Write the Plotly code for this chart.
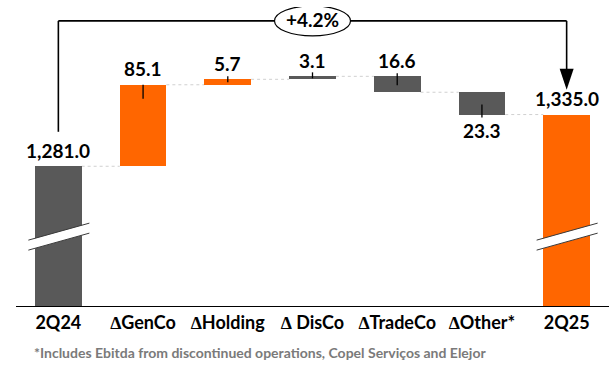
import plotly.graph_objects as go

# ---------------- data ----------------
categories = ["2Q24", "∆GenCo", "∆Holding", "∆ DisCo", "∆TradeCo", "∆Other*", "2Q25"]
measures = ["total", "delta", "delta", "delta", "delta", "delta", "total"]
values = [1281.0, 85.1, 5.7, 3.1, -16.6, -23.3, 1335.0]
footnote = "*Includes Ebitda from discontinued operations, Copel Serviços and Elejor"

# ---------------- style ----------------
ORANGE = "#FF6600"
GRAY = "#595959"
bar_colors = [GRAY, ORANGE, ORANGE, GRAY, GRAY, GRAY, ORANGE]
label_side = ["above", "above", "above", "above", "above", "below", "above"]
# leader tick offsets in pixels relative to the labelled bar edge (positive = up)
tick_px = [None, (0, -14), (3, -3), (4, -2), (3, -9), (10, -3), None]
FONT = "Lato"
Y_MIN, Y_MAX = 1135.1, 1447.3
BREAK_LEVEL = 1207.0
BRACKET_LEVEL = 1432.8
BAR_W = 0.55

# running bases
bases, heights, ends = [], [], []
level = 0.0
for m, v in zip(measures, values):
    if m == "total":
        bases.append(Y_MIN)
        heights.append(v - Y_MIN)
        level = v
        ends.append(v)
    else:
        start = level
        level = level + v
        bases.append(min(start, level))
        heights.append(abs(v))
        ends.append(level)

x_idx = list(range(len(categories)))

fig = go.Figure()
fig.add_trace(go.Bar(
    x=x_idx, y=heights, base=bases, width=BAR_W,
    marker=dict(color=bar_colors, line=dict(width=0)),
    hoverinfo="skip", showlegend=False,
))

shapes = []
annotations = []

# connectors
for i in range(len(categories) - 1):
    shapes.append(dict(type="line", xref="x", yref="y",
                       x0=i + BAR_W / 2, x1=i + 1 - BAR_W / 2, y0=ends[i], y1=ends[i],
                       line=dict(color="#d0d0d0", width=1, dash="dot"), layer="below"))

# value labels & leader ticks
for i, (m, v) in enumerate(zip(measures, values)):
    top = bases[i] + heights[i]
    bottom = bases[i]
    txt = f"{abs(v):,.1f}"
    edge = top if label_side[i] == "above" else bottom
    shift = 16 if label_side[i] == "above" else -16
    annotations.append(dict(x=i, y=edge, xref="x", yref="y", text=f"<b>{txt}</b>",
                            showarrow=False, yshift=shift, yanchor="middle",
                            font=dict(family=FONT, size=19, color="black")))
    if tick_px[i] is not None:
        shapes.append(dict(type="line", xref="x", yref="y", ysizemode="pixel",
                           yanchor=edge, x0=i, x1=i, y0=tick_px[i][0], y1=tick_px[i][1],
                           line=dict(color="black", width=1.3)))

# axis break marks on totals
for i, m in enumerate(measures):
    if m != "total":
        continue
    shapes.append(dict(type="path", xref="x", yref="y", xsizemode="pixel", ysizemode="pixel",
                       xanchor=i, yanchor=BREAK_LEVEL,
                       path="M -30,-3 L 31,14 L 31,4 L -30,-13 Z",
                       fillcolor="white", line=dict(width=0)))
    for p in ("M -30,-3 L 31,14", "M -30,-13 L 31,4"):
        shapes.append(dict(type="path", xref="x", yref="y", xsizemode="pixel", ysizemode="pixel",
                           xanchor=i, yanchor=BREAK_LEVEL, path=p,
                           line=dict(color="#3a3a3a", width=1)))

# bracket with arrow
first, last = 0, len(categories) - 1
shapes.append(dict(type="line", xref="x", yref="y", x0=first, x1=last,
                   y0=BRACKET_LEVEL, y1=BRACKET_LEVEL, line=dict(color="black", width=1.6)))
shapes.append(dict(type="line", xref="x", yref="y", x0=first, x1=first,
                   y0=values[first] + 36, y1=BRACKET_LEVEL, line=dict(color="black", width=1.6)))
shapes.append(dict(type="line", xref="x", yref="y", x0=last, x1=last,
                   y0=values[last] + 40, y1=BRACKET_LEVEL, line=dict(color="black", width=1.6)))
shapes.append(dict(type="path", xref="x", yref="y", xsizemode="pixel", ysizemode="pixel",
                   xanchor=last, yanchor=values[last] + 26,
                   path="M -7,21 L 7,21 L 0,0 Z", fillcolor="black", line=dict(width=0)))

growth = (values[last] / values[first] - 1) * 100
mid = (len(categories) - 1) / 2
shapes.append(dict(type="circle", xref="x", yref="y", xsizemode="pixel", ysizemode="pixel",
                   xanchor=mid, yanchor=BRACKET_LEVEL, x0=-38, x1=38, y0=-15, y1=15,
                   fillcolor="white", line=dict(color="black", width=1.2)))
annotations.append(dict(x=mid, y=BRACKET_LEVEL, xref="x", yref="y",
                        text=f"<b>{growth:+.1f}%</b>", showarrow=False, yshift=1,
                        font=dict(family=FONT, size=19, color="black")))

# footnote
annotations.append(dict(x=0.027, y=-0.157, xref="paper", yref="paper", xanchor="left",
                        yanchor="middle", text=f"<b>{footnote}</b>", showarrow=False,
                        font=dict(family=FONT, size=14, color="#7a7a7a")))

fig.update_layout(
    width=616, height=372,
    margin=dict(l=16, r=7, t=7, b=66),
    plot_bgcolor="white", paper_bgcolor="white",
    shapes=shapes, annotations=annotations,
    bargap=0,
    xaxis=dict(range=[-0.5, len(categories) - 0.5], tickmode="array", tickvals=x_idx,
               ticktext=[f"<b>{c}</b>" for c in categories],
               tickfont=dict(family=FONT, size=18, color="black"),
               showline=True, linecolor="black", linewidth=1.2, ticks="",
               showgrid=False, zeroline=False, fixedrange=True),
    yaxis=dict(range=[Y_MIN, Y_MAX], visible=False, showgrid=False, zeroline=False,
               fixedrange=True),
)

fig.write_html("out.html", config={"displayModeBar": False, "staticPlot": True},
               post_script="document.body.style.margin='0';")
